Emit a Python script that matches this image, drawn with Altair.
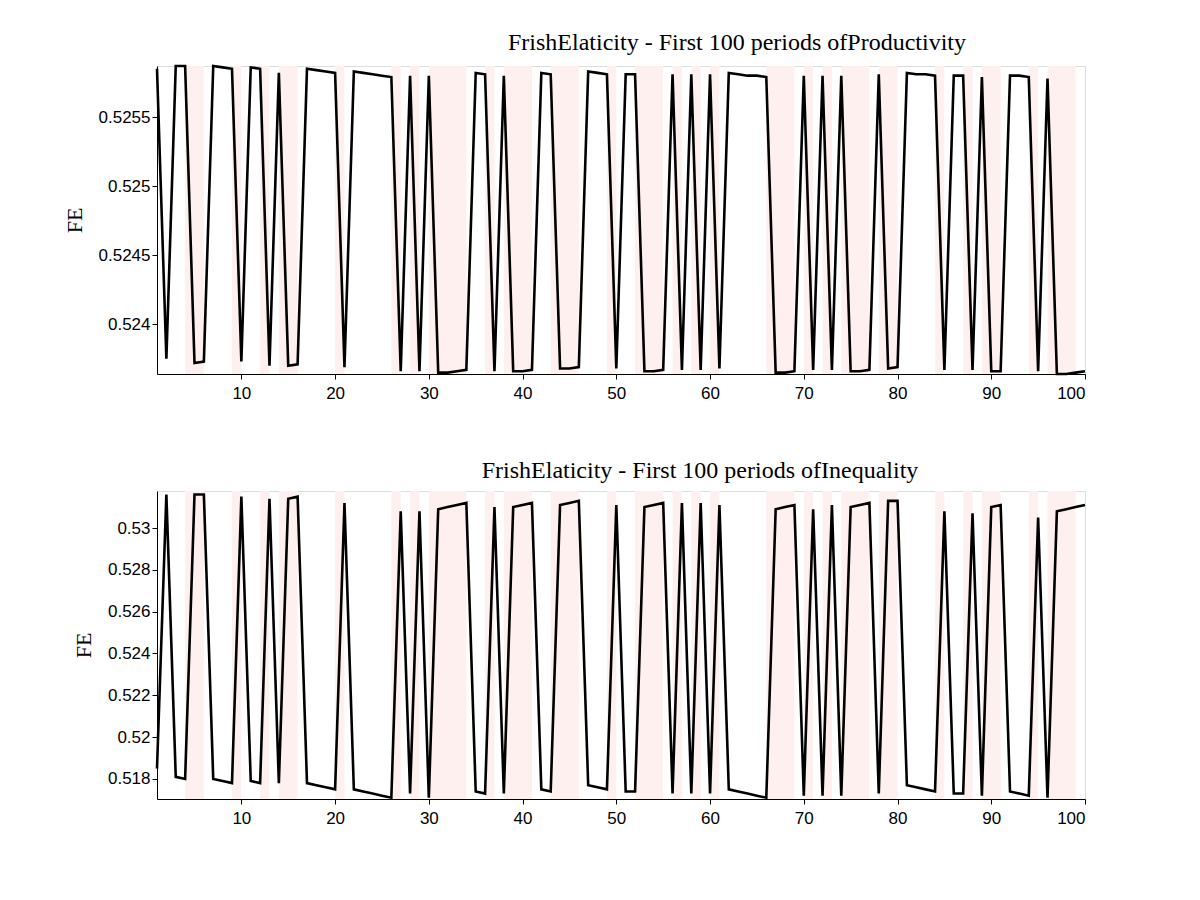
import pandas as pd
import altair as alt

periods = list(range(1, 101))

fe_productivity = [
    0.52585, 0.52375, 0.52587, 0.52587, 0.52372, 0.52373, 0.52587, 0.52586, 0.52585, 0.52373,
    0.52586, 0.52585, 0.52370, 0.52582, 0.52370, 0.52371, 0.52585, 0.52584, 0.52583, 0.52582,
    0.52369, 0.52583, 0.52582, 0.52581, 0.52580, 0.52579, 0.52366, 0.52580, 0.52366, 0.52580,
    0.52365, 0.52365, 0.52366, 0.52367, 0.52582, 0.52581, 0.52366, 0.52580, 0.52366, 0.52366,
    0.52367, 0.52582, 0.52581, 0.52368, 0.52368, 0.52369, 0.52583, 0.52582, 0.52581, 0.52368,
    0.52581, 0.52581, 0.52366, 0.52366, 0.52367, 0.52581, 0.52367, 0.52581, 0.52367, 0.52581,
    0.52368, 0.52582, 0.52581, 0.52580, 0.52580, 0.52579, 0.52365, 0.52365, 0.52366, 0.52580,
    0.52367, 0.52580, 0.52367, 0.52580, 0.52366, 0.52366, 0.52367, 0.52581, 0.52368, 0.52369,
    0.52582, 0.52581, 0.52581, 0.52580, 0.52367, 0.52580, 0.52580, 0.52367, 0.52579, 0.52366,
    0.52366, 0.52580, 0.52580, 0.52579, 0.52366, 0.52578, 0.52364, 0.52364, 0.52365, 0.52366,
]

fe_inequality = [
    0.5185, 0.5316, 0.5181, 0.5180, 0.5316, 0.5316, 0.5180, 0.5179, 0.5178, 0.5315,
    0.5179, 0.5178, 0.5314, 0.5178, 0.5314, 0.5315, 0.5178, 0.5177, 0.5176, 0.5175,
    0.5312, 0.5175, 0.5174, 0.5173, 0.5172, 0.5171, 0.5308, 0.5173, 0.5308, 0.5171,
    0.5309, 0.5310, 0.5311, 0.5312, 0.5174, 0.5173, 0.5310, 0.5173, 0.5310, 0.5311,
    0.5312, 0.5175, 0.5174, 0.5311, 0.5312, 0.5313, 0.5177, 0.5176, 0.5175, 0.5311,
    0.5174, 0.5174, 0.5310, 0.5311, 0.5312, 0.5173, 0.5312, 0.5173, 0.5312, 0.5173,
    0.5311, 0.5175, 0.5174, 0.5173, 0.5172, 0.5171, 0.5309, 0.5310, 0.5311, 0.5172,
    0.5309, 0.5172, 0.5311, 0.5172, 0.5310, 0.5311, 0.5312, 0.5173, 0.5313, 0.5313,
    0.5177, 0.5176, 0.5175, 0.5174, 0.5308, 0.5173, 0.5173, 0.5307, 0.5172, 0.5310,
    0.5311, 0.5174, 0.5173, 0.5172, 0.5305, 0.5171, 0.5308, 0.5309, 0.5310, 0.5311,
]

band_start = [4, 9, 12, 14, 20, 26, 28, 30, 36, 38, 43, 49, 52, 56, 58, 60, 66, 70, 72, 74, 78, 84, 87, 89, 94, 96]
band_end = [6, 10, 13, 16, 21, 27, 29, 34, 37, 41, 46, 50, 55, 57, 59, 61, 69, 71, 73, 77, 80, 85, 88, 91, 95, 99]

bands = pd.DataFrame({'start': band_start, 'end': band_end})

serif = 'Liberation Serif'
sans = 'Liberation Sans'


def panel(values, title, title_dx, domain, ticks, fmt):
    df = pd.DataFrame({'period': periods, 'fe': values})
    x = alt.X('period:Q', title=None, scale=alt.Scale(domain=[1, 100], nice=False),
              axis=alt.Axis(values=list(range(10, 101, 10)), grid=False, tickSize=5,
                            labelFont=sans, labelFontSize=17, labelColor='black',
                            domainColor='black', tickColor='black', labelPadding=6))
    shade = alt.Chart(bands).mark_rect(color='#fff0f0').encode(
        x=x,
        x2='end:Q',
        y=alt.value(0),
        y2=alt.value(308),
    ).transform_calculate(period='datum.start')
    line = alt.Chart(df).mark_line(color='black', strokeWidth=2.6).encode(
        x=x,
        y=alt.Y('fe:Q', title='FE', scale=alt.Scale(domain=domain, nice=False, zero=False),
                axis=alt.Axis(values=ticks, format=fmt, grid=False, tickSize=5,
                              labelFont=sans, labelFontSize=17, labelColor='black',
                              titleFont=serif, titleFontSize=22, titleFontWeight='normal',
                              titleColor='black', titlePadding=12,
                              domainColor='black', tickColor='black')),
    )
    return (shade + line).properties(
        width=928, height=308,
        title=alt.TitleParams(title, font=serif, fontSize=24, fontWeight='normal',
                              anchor='middle', dx=title_dx, color='black', offset=6),
    )


top = panel(fe_productivity, 'FrishElaticity - First 100 periods ofProductivity', 116,
            [0.52364, 0.52587], [0.524, 0.5245, 0.525, 0.5255], '.4~f')
bottom = panel(fe_inequality, 'FrishElaticity - First 100 periods ofInequality', 79,
               [0.51704, 0.53177], [0.518, 0.52, 0.522, 0.524, 0.526, 0.528, 0.53], '.3~f')

chart = alt.vconcat(top, bottom, spacing=56).properties(
    padding={'left': 54, 'top': 22, 'right': 10, 'bottom': 10}
).configure_view(stroke=None).configure(background='white')

chart.save("out.html", embed_options={"renderer": "svg", "actions": False})
